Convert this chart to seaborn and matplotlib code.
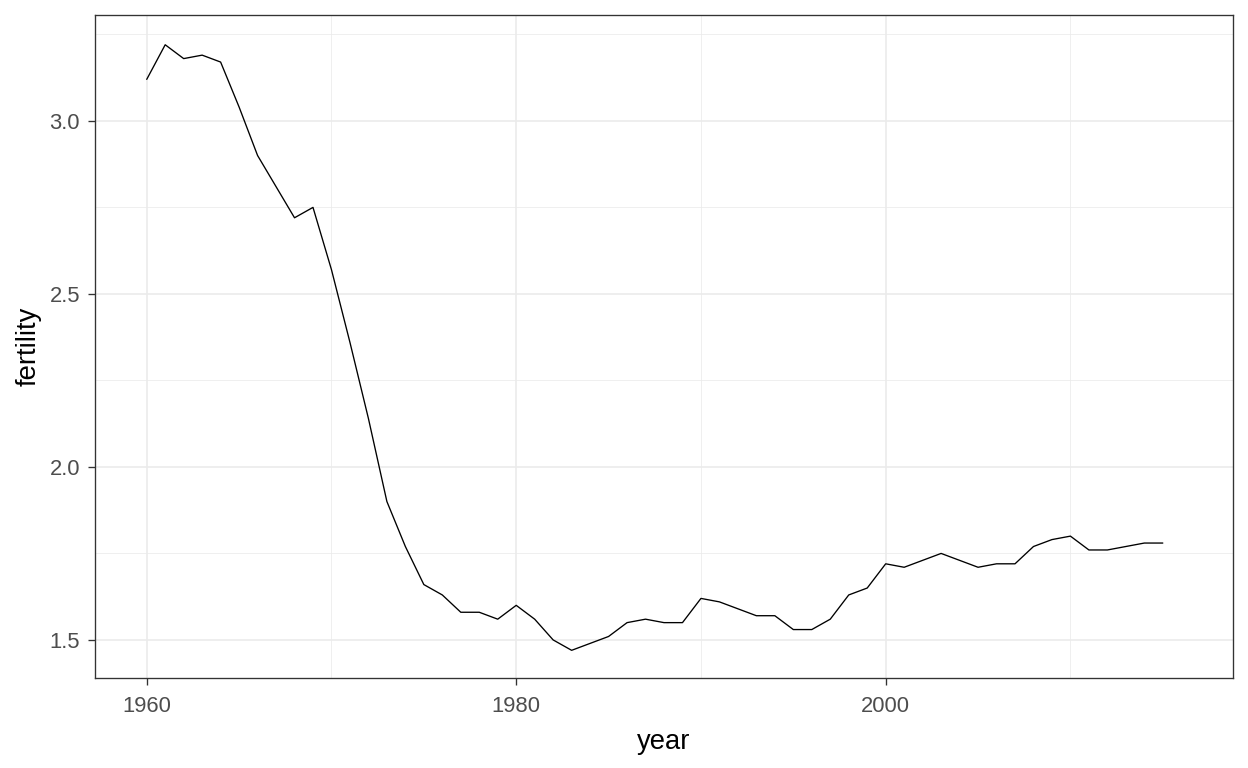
import numpy as np
import pandas as pd
import matplotlib
matplotlib.use("Agg")
import matplotlib.pyplot as plt
import seaborn as sns
from matplotlib.ticker import MultipleLocator, FormatStrFormatter

years = list(range(1960, 2016))
fertility = [3.12, 3.22, 3.18, 3.19, 3.17, 3.04, 2.90, 2.81, 2.72, 2.75,
             2.57, 2.36, 2.14, 1.90, 1.77, 1.66, 1.63, 1.58, 1.58, 1.56,
             1.60, 1.56, 1.50, 1.47, 1.49, 1.51, 1.55, 1.56, 1.55, 1.55,
             1.62, 1.61, 1.59, 1.57, 1.57, 1.53, 1.53, 1.56, 1.63, 1.65,
             1.72, 1.71, 1.73, 1.75, 1.73, 1.71, 1.72, 1.72, 1.77, 1.79,
             1.80, 1.76, 1.76, 1.77, 1.78, 1.78]

df = pd.DataFrame({"year": years, "fertility": fertility})

sns.set_theme(style="white")
plt.rcParams['font.family'] = ['Liberation Sans', 'DejaVu Sans']

fig = plt.figure(figsize=(13, 8), dpi=96)
ax = fig.add_axes([95 / 1248, 1 - 678 / 768, (1233 - 95) / 1248, (678 - 15) / 768])

sns.lineplot(data=df, x="year", y="fertility", color="black", linewidth=1.0, ax=ax)

# ggplot-style limits (year range in source runs to 2016)
ax.set_xlim(1957.2, 2018.8)
ax.set_ylim(1.39, 3.306)

ax.xaxis.set_major_locator(MultipleLocator(20))
ax.xaxis.set_minor_locator(MultipleLocator(10))
ax.yaxis.set_major_locator(MultipleLocator(0.5))
ax.yaxis.set_minor_locator(MultipleLocator(0.25))
ax.yaxis.set_major_formatter(FormatStrFormatter('%.1f'))

ax.grid(which='major', color='#EBEBEB', linewidth=1.2)
ax.grid(which='minor', color='#EBEBEB', linewidth=0.6)
ax.set_axisbelow(True)

for s in ax.spines.values():
    s.set_color('#333333')
    s.set_linewidth(1.0)

ax.tick_params(axis='both', which='major', length=5.2, width=1.0, color='#333333',
               labelsize=16.5, labelcolor='#4D4D4D')
ax.tick_params(axis='x', pad=8)
ax.tick_params(axis='y', pad=6)
ax.tick_params(axis='both', which='minor', length=0)
ax.tick_params(axis='x', bottom=True)
ax.tick_params(axis='y', left=True)

ax.set_xlabel("year", fontsize=20.5, color='black', labelpad=9)
ax.set_ylabel("fertility", fontsize=20.5, color='black', labelpad=6)

fig.savefig("out.png", dpi=96, facecolor='white')
